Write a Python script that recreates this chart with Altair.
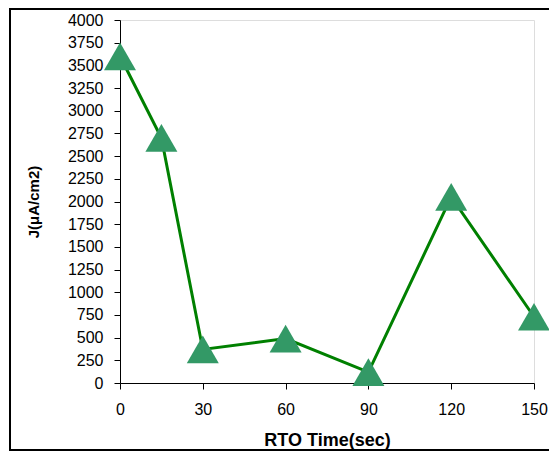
import altair as alt
import pandas as pd

time_sec = [0, 15, 30, 60, 90, 120, 150]
current_density = [3600, 2700, 370, 490, 120, 2050, 730]
x_ticks = [0, 30, 60, 90, 120, 150]
y_ticks = list(range(0, 4001, 250))

df = pd.DataFrame({"t": time_sec, "j": current_density})

FONT = "Liberation Sans"

x_enc = alt.X("t:Q", scale=alt.Scale(domain=[0, 150], nice=False),
              axis=alt.Axis(values=x_ticks, title="RTO Time(sec)", grid=False, format="d",
                            labelOverlap=False, labelBound=False, labelFlush=False,
                            domainColor="black", tickColor="black", tickSize=6,
                            labelFontSize=16, labelPadding=12, labelColor="black",
                            labelFont=FONT, titleFont=FONT, titleFontSize=18,
                            titleFontWeight="bold", titleColor="black", titlePadding=14))
y_enc = alt.Y("j:Q", scale=alt.Scale(domain=[0, 4000], nice=False),
              axis=alt.Axis(values=y_ticks, title="J(μA/cm2)", grid=False, format="d",
                            labelOverlap=False, labelBound=False, labelFlush=False,
                            domainColor="black", tickColor="black", tickSize=6,
                            labelFontSize=16, labelPadding=11, labelColor="black",
                            labelFont=FONT, titleFont=FONT, titleFontSize=15,
                            titleFontWeight="bold", titleColor="black", titlePadding=26))

base = alt.Chart(df).encode(x=x_enc, y=y_enc)
line = base.mark_line(color="#008000", strokeWidth=3)
pts = base.mark_point(shape="triangle-up", size=1024, filled=True,
                      fill="#339966", opacity=1, strokeWidth=0)

border = alt.Chart(pd.DataFrame({"a": [0]})).mark_rect(
    filled=False, stroke="black", strokeWidth=2, clip=False
).encode(x=alt.value(-110), x2=alt.value(480), y=alt.value(-11), y2=alt.value(430))

chart = alt.layer(border, line, pts).properties(
    width=414, height=363,
    autosize=alt.AutoSizeParams(type="none"),
    padding={"left": 112, "top": 12, "right": 15, "bottom": 70},
).configure_view(stroke=None).configure(background="white")

chart.save("out.html", embed_options={"renderer": "svg", "actions": False})
